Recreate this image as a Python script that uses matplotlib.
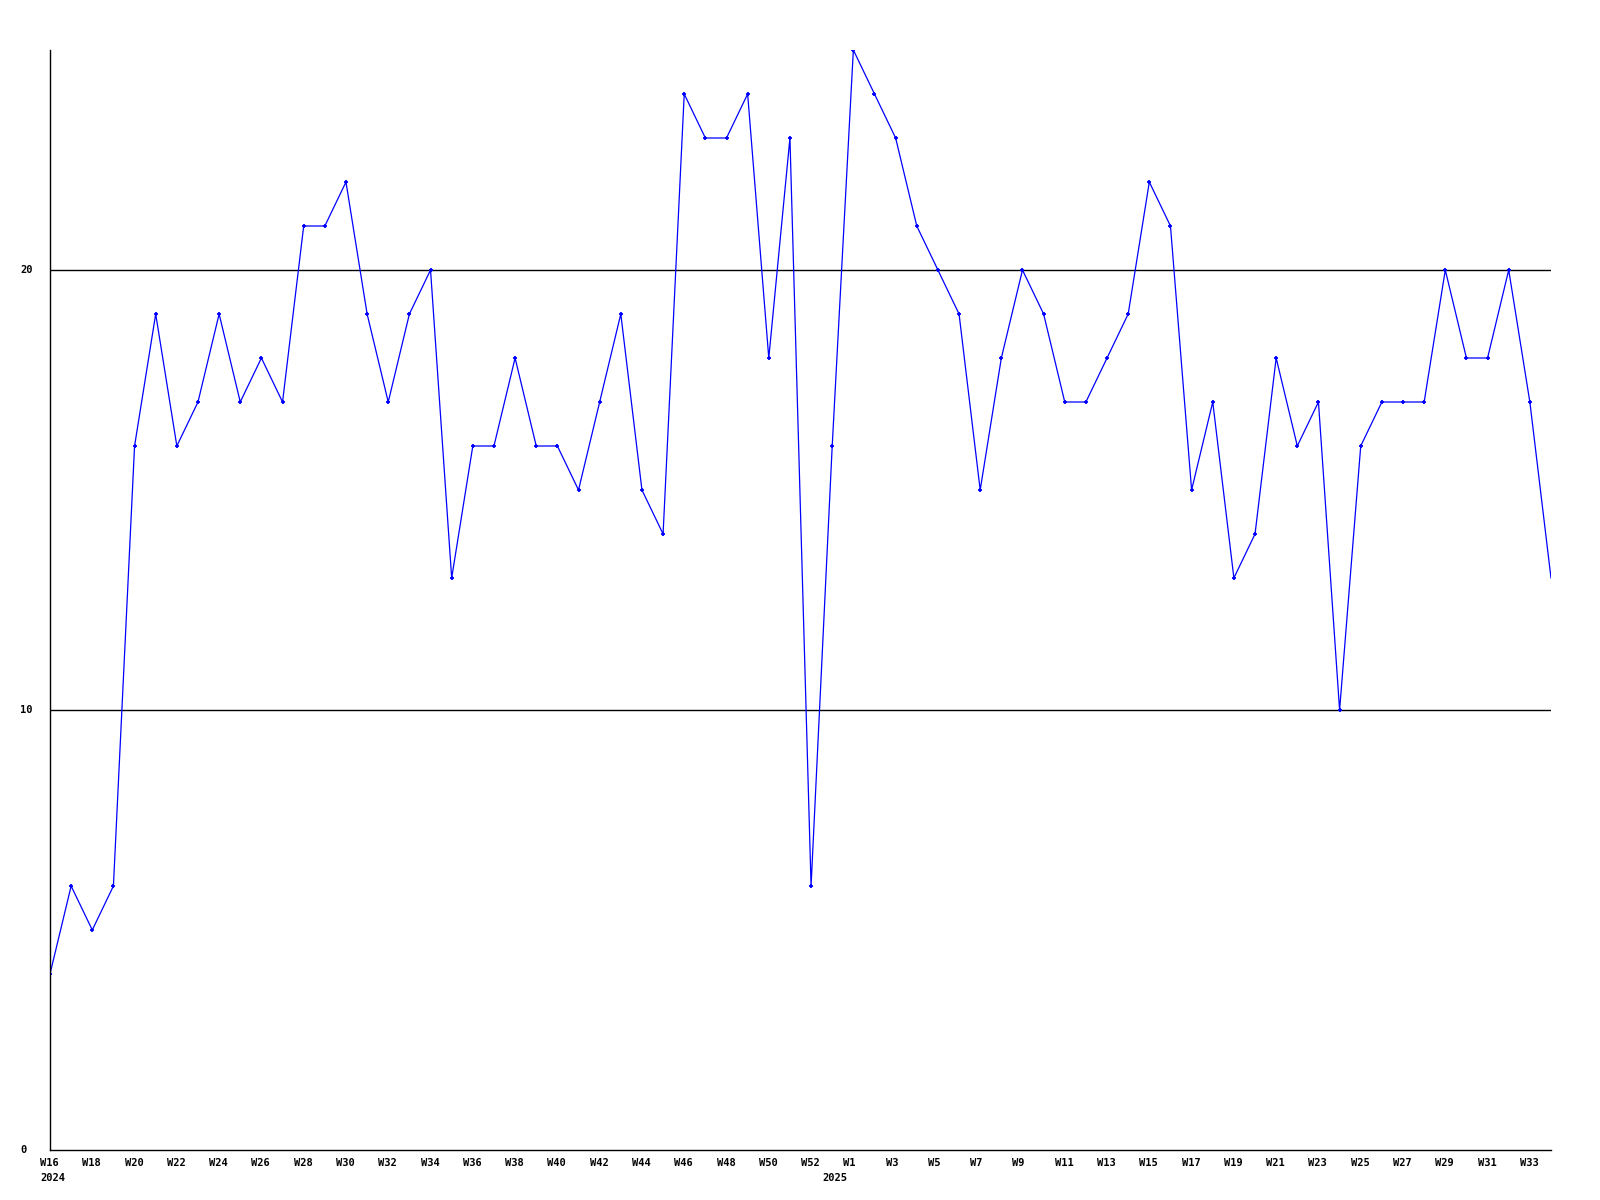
import matplotlib
matplotlib.use("Agg")
import matplotlib.pyplot as plt
import matplotlib.transforms as mtransforms

# weekly values, W16 2024 .. W34 2025 (index 37 is the split week at the year change)
values = [
    4, 6, 5, 6, 16, 19, 16, 17, 19, 17, 18, 17, 21, 21, 22, 19, 17, 19, 20, 13,
    16, 16, 18, 16, 16, 15, 17, 19, 15, 14, 24, 23, 23, 24, 18, 23, 6, 16, 25, 24,
    23, 21, 20, 19, 15, 18, 20, 19, 17, 17, 18, 19, 22, 21, 15, 17, 13, 14, 18, 16,
    17, 10, 16, 17, 17, 17, 20, 18, 18, 20, 17, 13,
]
weeks_2024 = [f"W{w}" for w in range(16, 53, 2)]
weeks_2025 = [f"W{w}" for w in range(1, 34, 2)]
tick_pos = list(range(0, 37, 2)) + list(range(38, 71, 2))
tick_labels = weeks_2024 + weeks_2025
year_pos = [0, 37]
year_labels = ["2024", "2025"]
y_ticks = [0, 10, 20]

FONT = dict(family="DejaVu Sans Mono", fontweight="bold", fontsize=7.5)

fig = plt.figure(figsize=(16, 12), dpi=100)
ax = fig.add_axes([50 / 1600, 1 - 1150 / 1200, 1501 / 1600, 1100 / 1200])

x = list(range(len(values)))
ax.plot(x, values, color="#0000ff", linewidth=0.9, marker="+", markersize=3.5,
        markeredgewidth=1.3, markevery=list(range(len(values) - 1)), clip_on=True)

for y in y_ticks[1:]:
    ax.axhline(y, color="black", linewidth=1.0, zorder=0)

ax.set_xlim(0, len(values) - 1)
ax.set_ylim(0, 25)
for s in ("top", "right"):
    ax.spines[s].set_visible(False)
for s in ("left", "bottom"):
    ax.spines[s].set_linewidth(1.0)
    ax.spines[s].set_color("black")

ax.set_xticks([])
ax.set_yticks([])

xtrans = ax.get_xaxis_transform() + mtransforms.ScaledTranslation(-10 / 100, 0, fig.dpi_scale_trans)
for p, lab in zip(tick_pos, tick_labels):
    ax.text(p, 0, lab, transform=xtrans + mtransforms.ScaledTranslation(0, -8 / 100, fig.dpi_scale_trans),
            ha="left", va="top", **FONT)
for p, lab in zip(year_pos, year_labels):
    ax.text(p, 0, lab, transform=xtrans + mtransforms.ScaledTranslation(0, -23 / 100, fig.dpi_scale_trans),
            ha="left", va="top", **FONT)

ytrans = mtransforms.blended_transform_factory(fig.transFigure, ax.transData)
for y in y_ticks:
    fig.text(20 / 1600, y, str(y), transform=ytrans, ha="left", va="center", **FONT)

fig.savefig("out.png", dpi=100, facecolor="white")
